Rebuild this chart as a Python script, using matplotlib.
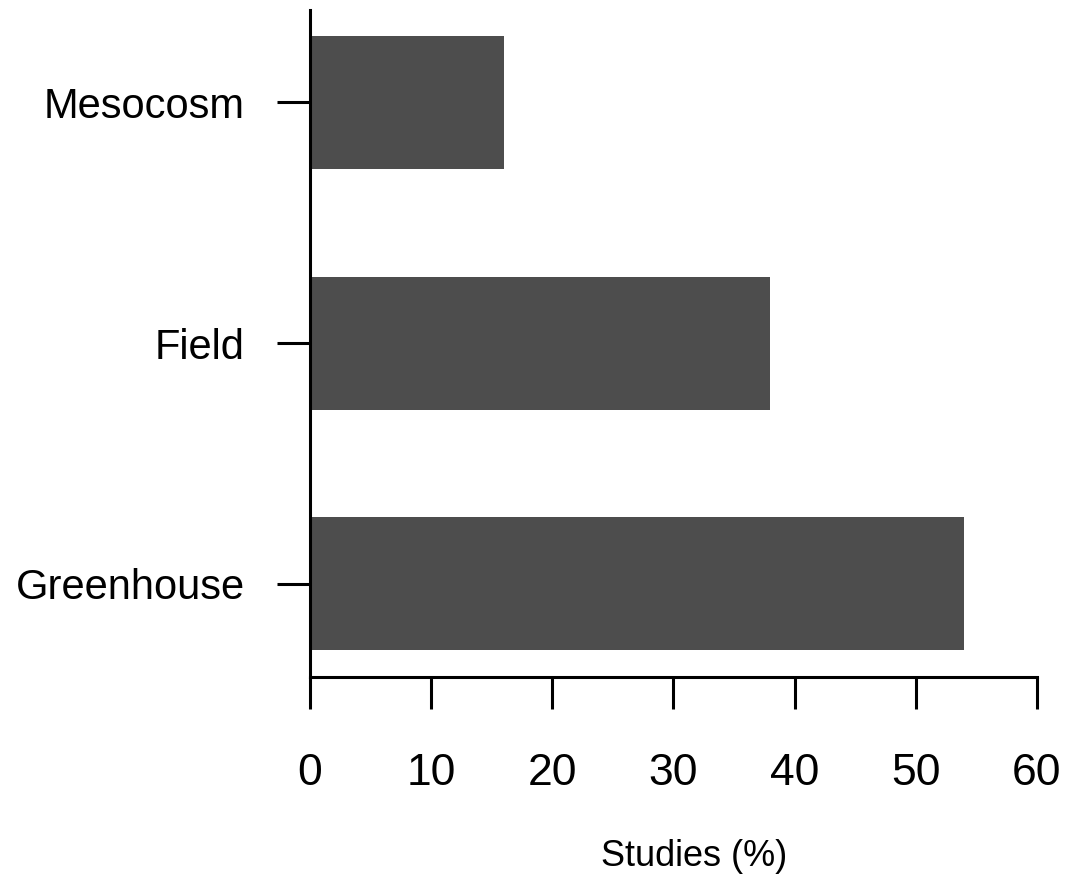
import matplotlib
matplotlib.use('Agg')
import matplotlib.pyplot as plt

plt.rcParams['font.family'] = ['Liberation Sans', 'DejaVu Sans']

categories = ['Greenhouse', 'Field', 'Mesocosm']
studies_pct = [54, 38, 16]
xticks = [0, 10, 20, 30, 40, 50, 60]

fig = plt.figure(figsize=(10.71, 8.82), dpi=100)
ax = fig.add_axes([0.28945, 0.23243, 0.67880, 0.75624])

ypos = list(range(len(categories)))
ax.barh(ypos, studies_pct, height=0.552, color='#4d4d4d', edgecolor='none')

ax.set_xlim(0, 60)
ax.set_ylim(-0.386, 2.382)
ax.set_xticks(xticks)
ax.set_yticks(ypos)
ax.set_yticklabels(categories)

for s in ['top', 'right']:
    ax.spines[s].set_visible(False)
for s in ['left', 'bottom']:
    ax.spines[s].set_linewidth(2.2)

ax.tick_params(axis='x', length=23, width=2.2, labelsize=32, pad=32)
ax.tick_params(axis='y', length=24, width=2.2, labelsize=30, pad=23)

ax.set_xlabel('Studies (%)', fontsize=26)
ax.xaxis.set_label_coords(0.528, -0.243)

fig.savefig('out.png', dpi=100)
